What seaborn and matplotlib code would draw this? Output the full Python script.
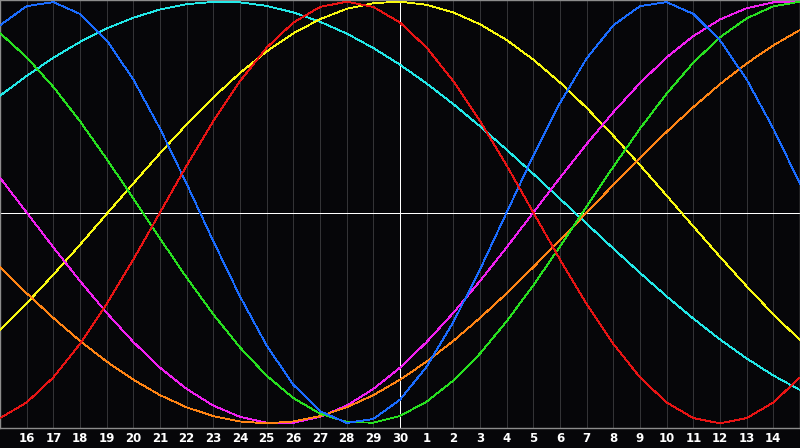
import pandas as pd
import matplotlib.pyplot as plt
import seaborn as sns

# day slots: slot 0 and 30 are the half-days cut off at the chart edges
tick_days = [16, 17, 18, 19, 20, 21, 22, 23, 24, 25, 26, 27, 28, 29, 30,
             1, 2, 3, 4, 5, 6, 7, 8, 9, 10, 11, 12, 13, 14]
slots = list(range(31))

# cycle values, one per day slot (-1 .. 1)
emotional = [-0.975, -0.901, -0.782, -0.623, -0.434, -0.223, 0.0, 0.223, 0.434, 0.623, 0.782,
             0.901, 0.975, 1.0, 0.975, 0.901, 0.782, 0.623, 0.434, 0.223, 0.0, -0.223,
             -0.434, -0.623, -0.782, -0.901, -0.975, -1.0, -0.975, -0.901, -0.782]
physical = [0.888, 0.979, 0.998, 0.942, 0.817, 0.631, 0.398, 0.136, -0.136, -0.398, -0.631,
            -0.817, -0.942, -0.998, -0.979, -0.888, -0.731, -0.520, -0.270, 0.0, 0.270,
            0.520, 0.731, 0.888, 0.979, 0.998, 0.942, 0.817, 0.631, 0.398, 0.136]
intellectual = [0.851, 0.736, 0.596, 0.433, 0.254, 0.067, -0.123, -0.309, -0.483, -0.640, -0.774,
                -0.880, -0.954, -0.993, -0.997, -0.965, -0.897, -0.797, -0.669, -0.516, -0.345,
                -0.161, 0.029, 0.217, 0.398, 0.564, 0.711, 0.831, 0.921, 0.978, 1.0]
aesthetic = [-0.558, -0.431, -0.295, -0.153, -0.007, 0.138, 0.281, 0.418, 0.546, 0.662, 0.764,
             0.850, 0.917, 0.966, 0.993, 1.0, 0.985, 0.949, 0.893, 0.818, 0.725,
             0.617, 0.496, 0.364, 0.225, 0.080, -0.066, -0.210, -0.350, -0.483, -0.605]
spiritual = [0.554, 0.648, 0.734, 0.809, 0.873, 0.924, 0.963, 0.988, 0.999, 0.997, 0.980,
             0.949, 0.905, 0.849, 0.780, 0.701, 0.612, 0.514, 0.409, 0.298, 0.183,
             0.065, -0.053, -0.171, -0.286, -0.398, -0.503, -0.602, -0.692, -0.773, -0.842]
intuitive = [0.165, 0.0, -0.165, -0.325, -0.476, -0.614, -0.736, -0.837, -0.916, -0.969, -0.997,
             -0.997, -0.969, -0.916, -0.837, -0.736, -0.614, -0.476, -0.325, -0.165, 0.0,
             0.165, 0.325, 0.476, 0.614, 0.736, 0.837, 0.916, 0.969, 0.997, 0.997]
awareness = [-0.259, -0.383, -0.5, -0.609, -0.707, -0.793, -0.866, -0.924, -0.966, -0.991, -1.0,
             -0.991, -0.966, -0.924, -0.866, -0.793, -0.707, -0.609, -0.5, -0.383, -0.259,
             -0.131, 0.0, 0.131, 0.259, 0.383, 0.5, 0.609, 0.707, 0.793, 0.866]

cycles = {
    "spiritual": spiritual,
    "aesthetic": aesthetic,
    "intuitive": intuitive,
    "awareness": awareness,
    "intellectual": intellectual,
    "physical": physical,
    "emotional": emotional,
}
colors = {
    "spiritual": "#22e8e8",
    "aesthetic": "#f8f810",
    "intuitive": "#f020f0",
    "awareness": "#ff8414",
    "intellectual": "#28e020",
    "physical": "#1a6cff",
    "emotional": "#e81414",
}

df = pd.DataFrame([
    {"slot": s, "value": v, "cycle": name}
    for name, vals in cycles.items()
    for s, v in zip(slots, vals)
])

bg = "#060609"
sns.set_style("dark", {"axes.facecolor": bg, "figure.facecolor": bg})

fig = plt.figure(figsize=(8, 4.48), dpi=100)
ax = fig.add_axes([0, 20 / 448, 1, 428 / 448])

# day grid
for s in range(1, 30):
    ax.axvline(s, color="#333336", lw=0.5, antialiased=False, zorder=1)

sns.lineplot(data=df, x="slot", y="value", hue="cycle", palette=colors,
             legend=False, linewidth=0.6, antialiased=False, sort=False,
             estimator=None, ax=ax, zorder=3)

# today marker and zero line
ax.axhline(0, color="white", lw=0.7, antialiased=False, zorder=2)
ax.axvline(15, color="white", lw=0.7, antialiased=False, zorder=2)

ax.set_xlim(0, 30)
ax.set_ylim(-1.022, 1.008)
ax.set_xticks(range(1, 30))
ax.set_xticklabels(tick_days, color="white", fontsize=8.5, fontweight="bold")
ax.set_yticks([])
ax.set_xlabel("")
ax.set_ylabel("")
ax.grid(False)
ax.tick_params(axis="x", length=0, pad=3)
for side in ["left", "top", "right", "bottom"]:
    ax.spines[side].set_visible(True)
    ax.spines[side].set_color("#8c8c8c")
    ax.spines[side].set_linewidth(1.0)

fig.savefig("out.png", dpi=100, facecolor=bg)
